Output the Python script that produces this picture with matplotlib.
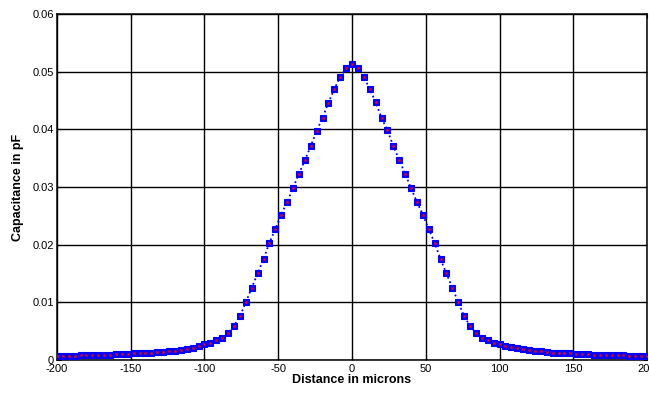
"""Capacitance vs. lateral distance, MATLAB-style line plot."""
import matplotlib
matplotlib.use("Agg")
import matplotlib.pyplot as plt
import numpy as np

# Distance (microns), sampled every 4 microns
distance = np.arange(-200, 201, 4)

# Capacitance (pF)
cap_left = [
    0.00070, 0.00070, 0.00070, 0.00075, 0.00080, 0.00082, 0.00084, 0.00085,
    0.00088, 0.00093, 0.00098, 0.00103, 0.00108, 0.00113, 0.00116, 0.00120,
    0.00127, 0.00135, 0.00142, 0.00150, 0.00160, 0.00172, 0.00188, 0.00208,
    0.00235, 0.00270, 0.00300, 0.00340, 0.00390, 0.00470, 0.00590, 0.00760,
    0.01000, 0.01250, 0.01500, 0.01750, 0.02030, 0.02270, 0.02520, 0.02740,
    0.02980, 0.03230, 0.03460, 0.03710, 0.03970, 0.04200, 0.04460, 0.04700,
    0.04910, 0.05060,
]
cap_peak = [0.05140]
cap_right = [
    0.05060, 0.04910, 0.04700, 0.04470, 0.04200, 0.03980, 0.03710, 0.03470,
    0.03230, 0.02980, 0.02740, 0.02520, 0.02270, 0.02030, 0.01750, 0.01500,
    0.01255, 0.01000, 0.00760, 0.00590, 0.00470, 0.00390, 0.00340, 0.00300,
    0.00270, 0.00250, 0.00230, 0.00210, 0.00190, 0.00175, 0.00162, 0.00150,
    0.00140, 0.00130, 0.00122, 0.00118, 0.00114, 0.00110, 0.00106, 0.00102,
    0.00095, 0.00092, 0.00090, 0.00088, 0.00086, 0.00080, 0.00074, 0.00072,
    0.00070, 0.00070,
]
capacitance = np.array(cap_left + cap_peak + cap_right)

x_ticks = [-200, -150, -100, -50, 0, 50, 100, 150, 200]
y_ticks = [0, 0.01, 0.02, 0.03, 0.04, 0.05, 0.06]
y_tick_labels = ["0", "0.01", "0.02", "0.03", "0.04", "0.05", "0.06"]

plt.rcParams["font.family"] = ["Liberation Sans", "DejaVu Sans"]
plt.rcParams["axes.unicode_minus"] = False

fig = plt.figure(figsize=(6.49, 3.94), dpi=100)
ax = fig.add_axes([0.0878, 0.0863, 0.9092, 0.8782])

# dotted blue line with blue squares, small red dot in each
ax.plot(distance, capacitance, color="blue", linestyle=":", linewidth=1.3,
        marker="s", markersize=4.0, markerfacecolor="blue",
        markeredgecolor="blue", markeredgewidth=0.8, zorder=3)
ax.plot(distance, capacitance, linestyle="none", marker="s",
        markersize=1.3, markerfacecolor="red", markeredgecolor="red",
        markeredgewidth=0.3, zorder=4)

ax.set_xlim(-200, 200)
ax.set_ylim(0, 0.06)
ax.set_xticks(x_ticks)
ax.set_yticks(y_ticks)
ax.set_yticklabels(y_tick_labels)
ax.tick_params(direction="in", top=True, right=True, length=3,
               labelsize=8, pad=2, width=0.8)
ax.tick_params(axis="x", pad=3)
ax.grid(True, color="black", linestyle="-", linewidth=1.0)
for sp in ax.spines.values():
    sp.set_linewidth(1.1)
    sp.set_color("black")

ax.set_xlabel("Distance in microns", fontsize=9, fontweight="bold", labelpad=0)
ax.set_ylabel("Capacitance in pF", fontsize=9, fontweight="bold", labelpad=6)

fig.savefig("out.png", dpi=100)
